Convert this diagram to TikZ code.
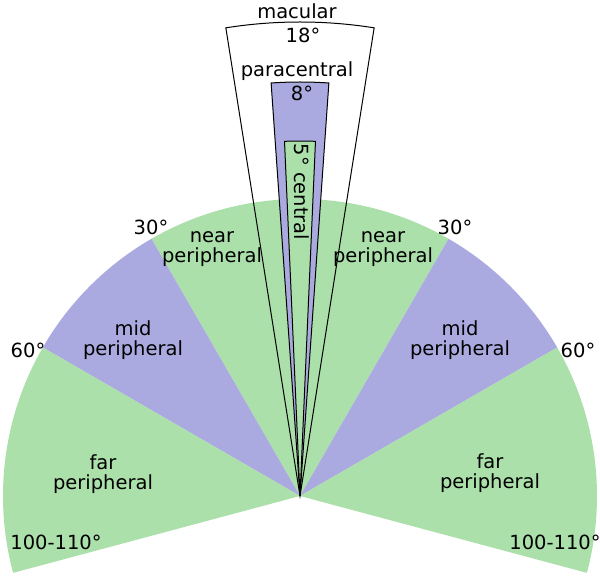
\documentclass[tikz,border=0pt]{standalone}
\usepackage{fontspec}
\setmainfont{DejaVu Sans}
\definecolor{fieldgreen}{RGB}{172,224,170}
\definecolor{fieldblue}{RGB}{170,170,224}
\begin{document}
\begin{tikzpicture}[x=1pt, y=1pt, every node/.style={font=\fontsize{19.5}{19.5}\selectfont, align=center, inner sep=0pt}, wedge/.style={draw=black, line width=1pt, line join=miter}]
	\useasboundingbox (-300,-81) rectangle (300,496);
	\coordinate (o) at (0,0);
	% visual field sectors
	\fill[fieldgreen] (o) -- (60:297) arc[start angle=60, end angle=120, radius=297] -- cycle;
	\fill[fieldblue] (o) -- (120:297) arc[start angle=120, end angle=150, radius=297] -- cycle;
	\fill[fieldblue] (o) -- (30:297) arc[start angle=30, end angle=60, radius=297] -- cycle;
	\fill[fieldgreen] (o) -- (150:297) arc[start angle=150, end angle=195, radius=297] -- cycle;
	\fill[fieldgreen] (o) -- (-15:297) arc[start angle=-15, end angle=30, radius=297] -- cycle;
	% macular, paracentral, central
	\draw[wedge] (o) -- (81:474) arc[start angle=81, end angle=99, radius=474] -- cycle;
	\filldraw[wedge, fill=fieldblue] (o) -- (86:414) arc[start angle=86, end angle=94, radius=414] -- cycle;
	\filldraw[wedge, fill=fieldgreen] (o) -- (87.5:355) arc[start angle=87.5, end angle=92.5, radius=355] -- cycle;
	% labels
	\node (mac) at (-3,485) {macular};
	\node (macdeg) at (3,461) {18°};
	\node (para) at (-3,425) {paracentral};
	\node (paradeg) at (2,403) {8°};
	\node[rotate=-90] (cen) at (2,304) {5° central};
	\node (nearl) at (-88,247) {near\\peripheral};
	\node (nearr) at (83,247) {near\\peripheral};
	\node (midl) at (-167,156) {mid\\peripheral};
	\node (midr) at (160,156) {mid\\peripheral};
	\node (farl) at (-197,22) {far\\peripheral};
	\node (farr) at (190,23) {far\\peripheral};
	\node (degl30) at (-149,269) {30°};
	\node (degr30) at (155,269) {30°};
	\node (degl60) at (-272,146) {60°};
	\node (degr60) at (278,146) {60°};
	\node (degl100) at (-244,-46) {100-110°};
	\node (degr100) at (255,-46) {100-110°};
\end{tikzpicture}
\end{document}
